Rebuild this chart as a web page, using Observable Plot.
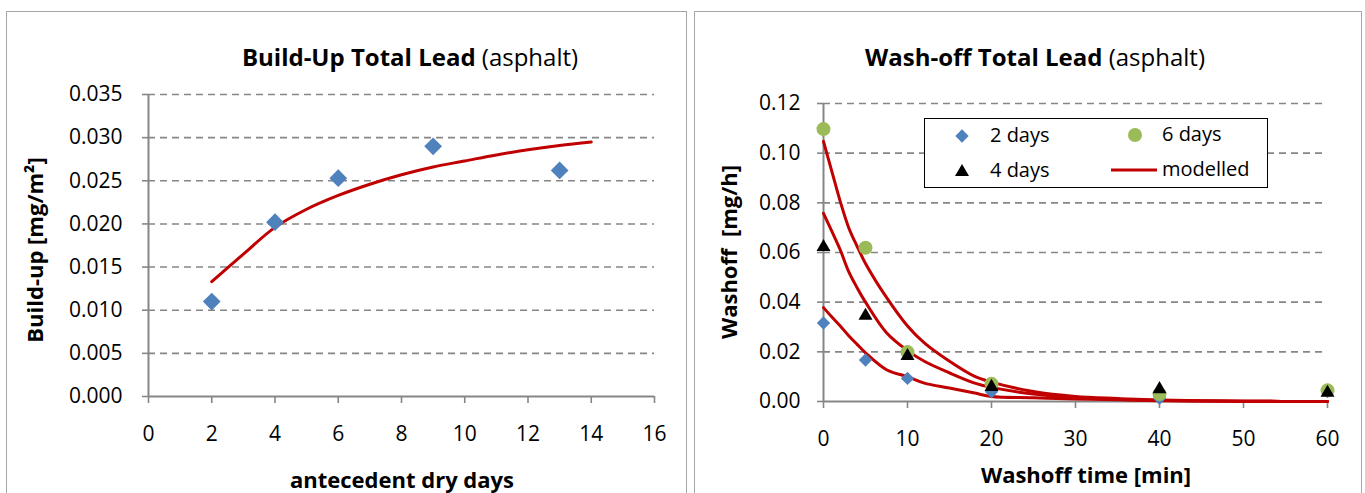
<!DOCTYPE html>
<html><head><meta charset="utf-8">
<script src="https://cdn.jsdelivr.net/npm/d3@7"></script>
<script src="https://cdn.jsdelivr.net/npm/@observablehq/plot@0.6"></script>
<style>
body{margin:0;background:#fff;}
#root{position:relative;width:1365px;height:493px;overflow:hidden;background:#fff;font-family:"Open Sans",sans-serif;color:#000}
.panel{position:absolute;border:1.5px solid #a6a6a6;box-sizing:border-box;background:#fff}
.chart{position:absolute;top:0}
.t{position:absolute;white-space:nowrap;font-size:24px;line-height:26px;transform:translateX(-50%)}
.yl{position:absolute;white-space:nowrap;font-size:22px;font-weight:700;line-height:24px;transform:translate(-50%,-50%) rotate(-90deg)}
.xl{position:absolute;white-space:nowrap;font-size:22px;font-weight:700;line-height:24px;transform:translateX(-50%)}
.legend{position:absolute;left:924px;top:118px;width:344px;height:70px;border:1.5px solid #000;box-sizing:border-box;background:#fff}
.lt{position:absolute;font-size:20px;line-height:22px;white-space:nowrap}
</style>
</head><body>
<div id="root">
  <div class="panel" style="left:6px;top:11px;width:681px;height:495px"></div>
  <div class="panel" style="left:694px;top:11px;width:668px;height:495px"></div>
  <div id="left" class="chart" style="left:0"></div>
  <div id="right" class="chart" style="left:690px"></div>
  <div class="t" style="left:410px;top:44px"><b>Build-Up Total Lead</b> (asphalt)</div>
  <div class="t" style="left:1035px;top:44px"><b>Wash-off Total Lead</b> (asphalt)</div>
  <div class="yl" style="left:34px;top:250px">Build-up [mg/m²]</div>
  <div class="yl" style="left:728px;top:252px">Washoff&nbsp; [mg/h]</div>
  <div class="xl" style="left:402px;top:467px">antecedent dry days</div>
  <div class="xl" style="left:1086px;top:462px">Washoff time [min]</div>
  <div class="legend"></div>
  <svg id="lsym" style="position:absolute;left:0;top:0;overflow:visible" width="1365" height="493"></svg>
  <div class="lt" style="left:990px;top:124px">2 days</div>
  <div class="lt" style="left:1162px;top:123px">6 days</div>
  <div class="lt" style="left:990px;top:159px">4 days</div>
  <div class="lt" style="left:1162px;top:158px">modelled</div>
</div>
<script>
// ---- Build-up chart data ----
const buildDays = [2, 4, 6, 9, 13];
const buildUp = [0.0110, 0.0202, 0.0253, 0.0290, 0.0262];
const buildModelDays = [2, 3, 4, 5, 6, 7, 8, 9, 10, 11, 12, 13, 14];
const buildModel = [0.0133, 0.0165, 0.0196, 0.0217, 0.0233, 0.0246, 0.0257, 0.0266, 0.0273, 0.0280, 0.0286, 0.0291, 0.0295];
const buildXTicks = [0, 2, 4, 6, 8, 10, 12, 14, 16];
const buildYTicks = [0, 0.005, 0.010, 0.015, 0.020, 0.025, 0.030, 0.035];

// ---- Wash-off chart data ----
const washTimes = [0, 5, 10, 20, 40, 60];
const wash2days = [0.0316, 0.0167, 0.0093, 0.0039, 0.0013, 0.0040];
const wash4days = [0.0622, 0.0345, 0.0183, 0.0059, 0.0050, 0.0035];
const wash6days = [0.1097, 0.0619, 0.0199, 0.0071, 0.0030, 0.0045];
const modelTimes = [0, 1, 2, 3, 4, 5, 7.5, 10, 12, 15, 18, 20, 25, 30, 35, 40, 45, 50, 60];
const model2days = [0.0378, 0.0340, 0.0304, 0.0265, 0.0230, 0.0196, 0.0128, 0.0100, 0.0074, 0.0054, 0.0034, 0.0020, 0.0015, 0.0010, 0.0007, 0.0003, 0.0002, 0.0001, 0];
const model4days = [0.0758, 0.0685, 0.0610, 0.0523, 0.0458, 0.0400, 0.0277, 0.0205, 0.0162, 0.0115, 0.0074, 0.0057, 0.0030, 0.0015, 0.0009, 0.0004, 0.0002, 0.0001, 0];
const model6days = [0.1047, 0.0926, 0.0805, 0.0700, 0.0625, 0.0556, 0.0419, 0.0304, 0.0236, 0.0162, 0.0101, 0.0078, 0.0040, 0.0020, 0.0012, 0.0006, 0.0003, 0.0001, 0];
const washXTicks = [0, 10, 20, 30, 40, 50, 60];
const washYTicks = [0, 0.02, 0.04, 0.06, 0.08, 0.10, 0.12];

const GRID = "#868686", RED = "#C00000", BLUE = "#4F81BD", GREEN = "#9BBB59";
const fontStyle = {fontFamily: "'Open Sans', sans-serif", fontSize: "21px", color: "#000", background: "transparent", overflow: "visible"};

const buildPts = buildDays.map((d, i) => ({x: d, y: buildUp[i]}));
const buildLine = buildModelDays.map((d, i) => ({x: d, y: buildModel[i]}));

const left = Plot.plot({
  width: 690, height: 493,
  marginLeft: 148, marginRight: 36, marginTop: 94, marginBottom: 97,
  style: fontStyle,
  x: {domain: [0, 16]},
  y: {domain: [0, 0.035]},
  marks: [
    Plot.gridY(buildYTicks.filter(d => d > 0), {stroke: GRID, strokeOpacity: 1, strokeWidth: 1.6, strokeDasharray: "7,5"}),
    Plot.ruleY([0], {stroke: GRID, strokeWidth: 2}),
    Plot.ruleX([0], {stroke: GRID, strokeWidth: 2}),
    Plot.axisY({ticks: buildYTicks, tickFormat: d3.format(".3f"), tickSize: 6, tickPadding: 20, stroke: GRID, strokeWidth: 1.6, label: null}),
    Plot.axisX({ticks: buildXTicks, tickFormat: d3.format("d"), tickSize: 7, tickPadding: 23, stroke: GRID, strokeWidth: 1.6, label: null}),
    Plot.line(buildLine, {x: "x", y: "y", stroke: RED, strokeWidth: 3, curve: "catmull-rom"}),
    Plot.dot(buildPts, {x: "x", y: "y", symbol: "diamond2", r: 8, fill: BLUE, stroke: "none"})
  ]
});
document.getElementById("left").appendChild(left);

const washPts = washTimes.map((t, i) => ({x: t, y: wash2days[i]}));
const pts6 = washTimes.map((t, i) => ({x: t, y: wash6days[i]}));
const pts4 = washTimes.map((t, i) => ({x: t, y: wash4days[i]}));
const lines = [];
modelTimes.forEach((t, i) => {
  lines.push({x: t, y: model2days[i], s: "2"});
  lines.push({x: t, y: model4days[i], s: "4"});
  lines.push({x: t, y: model6days[i], s: "6"});
});

const right = Plot.plot({
  width: 675, height: 493,
  marginLeft: 133, marginRight: 38, marginTop: 103, marginBottom: 92,
  style: fontStyle,
  x: {domain: [0, 60]},
  y: {domain: [0, 0.12]},
  marks: [
    Plot.gridY(washYTicks.filter(d => d > 0), {stroke: GRID, strokeOpacity: 1, strokeWidth: 1.6, strokeDasharray: "7,5"}),
    Plot.ruleY([0], {stroke: GRID, strokeWidth: 2}),
    Plot.ruleX([0], {stroke: GRID, strokeWidth: 2}),
    Plot.axisY({ticks: washYTicks, tickFormat: d3.format(".2f"), tickSize: 6, tickPadding: 17, stroke: GRID, strokeWidth: 1.6, label: null}),
    Plot.axisX({ticks: washXTicks, tickFormat: d3.format("d"), tickSize: 7, tickPadding: 23, stroke: GRID, strokeWidth: 1.6, label: null}),
    Plot.line(lines, {x: "x", y: "y", z: "s", stroke: RED, strokeWidth: 3, curve: "catmull-rom"}),
    Plot.dot(washPts, {x: "x", y: "y", symbol: "diamond2", r: 6, fill: BLUE, stroke: "none"}),
    Plot.dot(pts6, {x: "x", y: "y", symbol: "circle", r: 7, fill: GREEN, stroke: "none"}),
    Plot.dot(pts4, {x: "x", y: "y", symbol: "triangle", r: 5.2, fill: "#000", stroke: "none"})
  ]
});
document.getElementById("right").appendChild(right);

// legend swatches
const ls = d3.select("#lsym");
ls.append("path").attr("d", d3.symbol(d3.symbolDiamond2, Math.PI * 36)()).attr("transform", "translate(962,136)").attr("fill", BLUE);
ls.append("path").attr("d", d3.symbol(d3.symbolCircle, Math.PI * 49)()).attr("transform", "translate(1135,135)").attr("fill", GREEN);
ls.append("path").attr("d", d3.symbol(d3.symbolTriangle, Math.PI * 27)()).attr("transform", "translate(962,172)").attr("fill", "#000");
ls.append("line").attr("x1", 1111).attr("x2", 1157).attr("y1", 170).attr("y2", 170).attr("stroke", RED).attr("stroke-width", 3);
</script>
</body></html>
